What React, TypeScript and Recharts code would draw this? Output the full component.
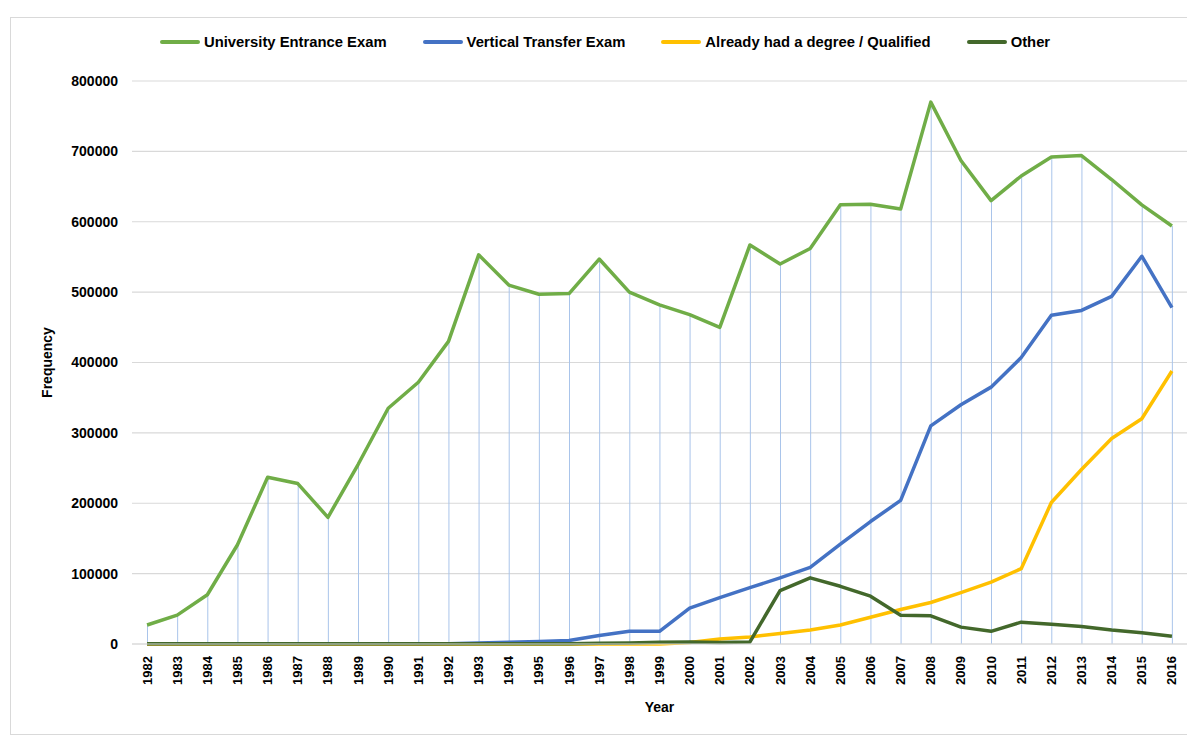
import {
  ComposedChart,
  Line,
  Bar,
  XAxis,
  YAxis,
  CartesianGrid,
} from 'recharts';

const years = [
  '1982', '1983', '1984', '1985', '1986', '1987', '1988', '1989', '1990', '1991',
  '1992', '1993', '1994', '1995', '1996', '1997', '1998', '1999', '2000', '2001',
  '2002', '2003', '2004', '2005', '2006', '2007', '2008', '2009', '2010', '2011',
  '2012', '2013', '2014', '2015', '2016',
];

const universityExam = [
  27000, 41000, 70000, 141000, 237000, 228000, 180000, 255000, 335000, 372000,
  430000, 553000, 510000, 497000, 498000, 547000, 500000, 482000, 468000, 450000,
  567000, 540000, 562000, 624000, 625000, 618000, 770000, 687000, 630000, 665000,
  692000, 694000, 660000, 624000, 594000,
];

const verticalTransfer = [
  0, 0, 0, 0, 0, 0, 0, 0, 0, 0,
  500, 1500, 2500, 3500, 5000, 12000, 18000, 18000, 51000, 66000,
  80000, 94000, 109000, 142000, 174000, 204000, 310000, 340000, 365000, 407000,
  467000, 474000, 494000, 551000, 478000,
];

const qualified = [
  0, 0, 0, 0, 0, 0, 0, 0, 0, 0,
  0, 0, 0, 0, 0, 0, 0, 0, 2000, 7000,
  10000, 15000, 20000, 27000, 38000, 49000, 59000, 73000, 88000, 107000,
  201000, 248000, 292000, 320000, 388000,
];

const other = [
  500, 500, 500, 500, 500, 500, 500, 500, 500, 500,
  500, 500, 500, 500, 500, 1000, 1500, 2500, 3000, 2000,
  3000, 76000, 94000, 82000, 68000, 41000, 40000, 24000, 18000, 31000,
  28000, 25000, 20000, 16000, 11000,
];

const yTicks = [0, 100000, 200000, 300000, 400000, 500000, 600000, 700000, 800000];

const series = [
  { key: 'university', name: 'University Entrance Exam', color: '#70ad47' },
  { key: 'vertical', name: 'Vertical Transfer Exam', color: '#4472c4' },
  { key: 'qualified', name: 'Already had a degree / Qualified', color: '#ffc000' },
  { key: 'other', name: 'Other', color: '#43682b' },
];

const data = years.map((year, i) => ({
  year,
  university: universityExam[i],
  vertical: verticalTransfer[i],
  qualified: qualified[i],
  other: other[i],
}));

const FONT = '"Liberation Sans", Arial, sans-serif';

const YearTick = (props: any) => {
  const { x, y, payload } = props;
  return (
    <text
      x={x}
      y={y}
      transform={`rotate(-90 ${x} ${y})`}
      textAnchor="end"
      dy="0.35em"
      fontFamily={FONT}
      fontWeight="bold"
      fontSize={13}
      fill="#000"
    >
      {payload.value}
    </text>
  );
};

const FrequencyLabel = (props: any) => {
  const { viewBox } = props;
  const cx = 36;
  const cy = viewBox.y + viewBox.height / 2;
  return (
    <text
      x={cx}
      y={cy}
      transform={`rotate(-90 ${cx} ${cy})`}
      textAnchor="middle"
      dy="0.35em"
      fontFamily={FONT}
      fontWeight="bold"
      fontSize={14}
      fill="#000"
    >
      Frequency
    </text>
  );
};

export default function App() {
  return (
    <div
      style={{
        position: 'relative',
        width: 1182,
        height: 716,
        marginTop: 9,
        marginLeft: 2,
        border: '1px solid #d9d9d9',
        background: '#fff',
        fontFamily: FONT,
      }}
    >
      <div
        style={{
          position: 'absolute',
          left: 149,
          top: 16,
          display: 'flex',
          gap: 36,
          alignItems: 'center',
          fontWeight: 'bold',
          fontSize: 14.8,
          color: '#000',
          whiteSpace: 'nowrap',
        }}
      >
        {series.map((s) => (
          <div key={s.key} style={{ display: 'flex', alignItems: 'center' }}>
            <span
              style={{
                display: 'inline-block',
                width: 40,
                height: 4,
                background: s.color,
                marginRight: 4,
                borderRadius: 2,
              }}
            />
            <span>{s.name}</span>
          </div>
        ))}
      </div>

      <ComposedChart
        width={1182}
        height={716}
        data={data}
        margin={{ top: 63, right: 6, left: 21, bottom: 20 }}
      >
        <CartesianGrid vertical={false} stroke="#d9d9d9" strokeWidth={1.2} />
        <XAxis
          dataKey="year"
          interval={0}
          height={70}
          tickLine={false}
          tickMargin={6}
          axisLine={{ stroke: '#d9d9d9', strokeWidth: 1.2 }}
          tick={<YearTick />}
          label={{
            value: 'Year',
            position: 'insideBottom',
            offset: 2,
            fontFamily: FONT,
            fontWeight: 'bold',
            fontSize: 14,
            fill: '#000',
          }}
        />
        <YAxis
          width={100}
          domain={[0, 800000]}
          ticks={yTicks}
          interval={0}
          axisLine={false}
          tickLine={false}
          tickMargin={8}
          tick={{ fontFamily: FONT, fontWeight: 'bold', fontSize: 14, fill: '#000' }}
          label={<FrequencyLabel />}
        />
        <Bar
          dataKey="university"
          barSize={1}
          fill="#a9c4ea"
          isAnimationActive={false}
          legendType="none"
        />
        {series.map((s) => (
          <Line
            key={s.key}
            type="linear"
            dataKey={s.key}
            name={s.name}
            stroke={s.color}
            strokeWidth={3.5}
            dot={false}
            activeDot={false}
            strokeLinejoin="round"
            isAnimationActive={false}
          />
        ))}
      </ComposedChart>
    </div>
  );
}
